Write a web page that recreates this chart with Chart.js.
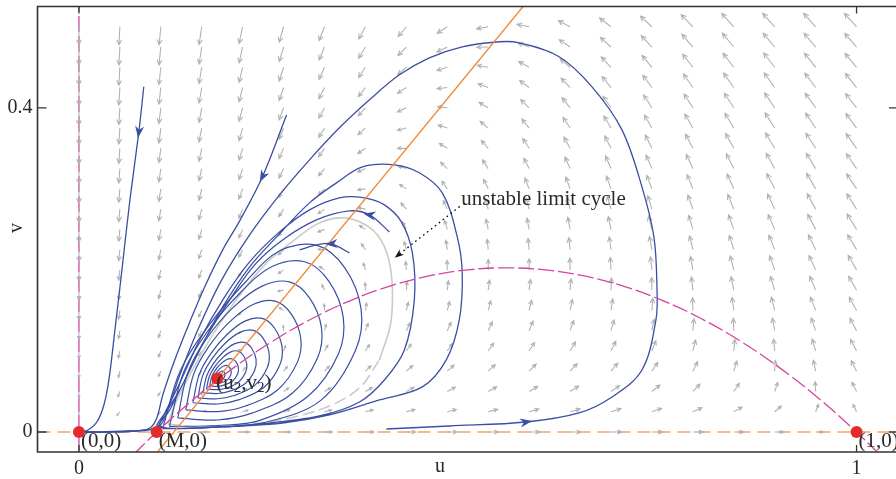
<!DOCTYPE html>
<html>
<head>
<meta charset="utf-8">
<script src="https://cdn.jsdelivr.net/npm/chart.js@4.4.0/dist/chart.umd.min.js"></script>
<style>
  html, body { margin: 0; padding: 0; overflow: hidden; background: #fff; }
  canvas { display: block; }
</style>
</head>
<body>
<canvas id="phase" width="904" height="479"></canvas>
<script>
// axis ranges and ticks
const uRange = [-0.0533, 1.0533];
const vRange = [-0.0247, 0.525];
const uTicks = [0, 1];
const vTicks = [0, 0.4];

// equilibria
const eqU = [0, 0.1, 0.178, 1];
const eqV = [0, 0, 0.066, 0];
const eqLabels = ['(0,0)', '(M,0)', '(u2,v2)', '(1,0)'];

// nullclines
const preyNullU = [0.07, 0.1, 0.15, 0.2, 0.25, 0.3, 0.35, 0.4, 0.45, 0.5, 0.55, 0.6, 0.65, 0.7, 0.75, 0.8, 0.85, 0.9, 0.95, 1.0, 1.03];
const preyNullV = [-0.0279, 0, 0.0425, 0.08, 0.1125, 0.14, 0.1625, 0.18, 0.1925, 0.2, 0.2025, 0.2, 0.1925, 0.18, 0.1625, 0.14, 0.1125, 0.08, 0.0425, 0, -0.0279];
const predNullU = [0.101, 0.5712];
const predNullV = [-0.0247, 0.525];

// direction field: grid and vector components (rows = v, columns = u)
const gridU = [0, 0.0526, 0.1053, 0.1579, 0.2105, 0.2632, 0.3158, 0.3684, 0.4211, 0.4737, 0.5263, 0.5789, 0.6316, 0.6842, 0.7368, 0.7895, 0.8421, 0.8947, 0.9474, 1];
const gridV = [0, 0.025, 0.05, 0.075, 0.1, 0.125, 0.15, 0.175, 0.2, 0.225, 0.25, 0.275, 0.3, 0.325, 0.35, 0.375, 0.4, 0.425, 0.45, 0.475, 0.5];
const fieldDU = [
  [0, -.002, 0, .008, .018, .032, .047, .062, .078, .093, .106, .117, .124, .126, .123, .115, .099, .075, .042, 0],
  [0, -.004, -.002, .004, .013, .025, .039, .053, .068, .081, .093, .102, .108, .109, .105, .095, .078, .053, .019, -.025],
  [0, -.005, -.005, 0, .008, .018, .031, .044, .057, .070, .080, .088, .092, .092, .087, .075, .057, .030, -.005, -.050],
  [0, -.006, -.007, -.004, .003, .012, .023, .035, .047, .058, .067, .073, .076, .075, .068, .055, .036, .008, -.029, -.075],
  [0, -.008, -.010, -.008, -.003, .005, .015, .026, .036, .046, .054, .059, .061, .058, .050, .036, .015, -.015, -.052, -.100],
  [0, -.009, -.013, -.012, -.008, -.001, .007, .016, .026, .034, .041, .044, .045, .041, .031, .016, -.007, -.037, -.076, -.125],
  [0, -.010, -.015, -.016, -.013, -.008, -.001, .007, .015, .022, .027, .030, .029, .024, .013, -.004, -.028, -.059, -.100, -.150],
  [0, -.012, -.018, -.020, -.018, -.015, -.009, -.002, .005, .010, .014, .016, .013, .007, -.005, -.024, -.049, -.082, -.124, -.175],
  [0, -.013, -.021, -.024, -.024, -.021, -.017, -.011, -.006, -.002, .001, .001, -.003, -.011, -.024, -.043, -.070, -.104, -.147, -.200],
  [0, -.014, -.023, -.028, -.029, -.028, -.025, -.021, -.016, -.013, -.012, -.014, -.018, -.028, -.042, -.063, -.091, -.126, -.171, -.225],
  [0, -.016, -.026, -.032, -.034, -.034, -.032, -.030, -.027, -.025, -.025, -.028, -.034, -.045, -.061, -.083, -.112, -.149, -.195, -.250],
  [0, -.017, -.028, -.036, -.040, -.041, -.040, -.039, -.038, -.037, -.038, -.042, -.050, -.062, -.079, -.103, -.133, -.171, -.218, -.275],
  [0, -.018, -.031, -.040, -.045, -.047, -.048, -.048, -.048, -.049, -.052, -.057, -.066, -.079, -.098, -.122, -.154, -.194, -.242, -.300],
  [0, -.020, -.034, -.044, -.050, -.054, -.056, -.057, -.059, -.061, -.065, -.071, -.082, -.096, -.116, -.142, -.175, -.216, -.266, -.325],
  [0, -.021, -.036, -.048, -.055, -.061, -.064, -.067, -.069, -.073, -.078, -.086, -.097, -.113, -.134, -.162, -.196, -.238, -.289, -.350],
  [0, -.022, -.039, -.052, -.061, -.067, -.072, -.076, -.080, -.084, -.091, -.100, -.113, -.130, -.153, -.182, -.217, -.261, -.313, -.375],
  [0, -.024, -.042, -.056, -.066, -.074, -.080, -.085, -.090, -.096, -.104, -.115, -.129, -.148, -.171, -.201, -.238, -.283, -.337, -.400],
  [0, -.025, -.044, -.059, -.071, -.080, -.088, -.094, -.101, -.108, -.117, -.129, -.145, -.165, -.190, -.221, -.259, -.305, -.360, -.425],
  [0, -.026, -.047, -.063, -.076, -.087, -.096, -.103, -.111, -.120, -.131, -.144, -.161, -.182, -.208, -.241, -.280, -.328, -.384, -.450],
  [0, -.027, -.050, -.067, -.082, -.093, -.103, -.113, -.122, -.132, -.144, -.158, -.176, -.199, -.227, -.260, -.301, -.350, -.408, -.475],
  [0, -.029, -.052, -.071, -.087, -.100, -.111, -.122, -.132, -.144, -.157, -.173, -.192, -.216, -.245, -.280, -.322, -.373, -.431, -.500]
];
const fieldDV = [
  [0, 0, 0, 0, 0, 0, 0, 0, 0, 0, 0, 0, 0, 0, 0, 0, 0, 0, 0, 0],
  [-.008, -.005, -.002, .001, .004, .007, .010, .013, .016, .019, .022, .026, .029, .032, .035, .038, .041, .044, .047, .050],
  [-.019, -.013, -.007, -.001, .005, .012, .018, .024, .030, .036, .042, .049, .055, .061, .067, .073, .079, .085, .092, .098],
  [-.033, -.023, -.014, -.005, .004, .014, .023, .032, .041, .050, .060, .069, .078, .087, .097, .106, .115, .124, .134, .143],
  [-.049, -.036, -.024, -.012, .001, .013, .025, .038, .050, .062, .075, .087, .099, .112, .124, .136, .149, .161, .173, .185],
  [-.067, -.052, -.036, -.021, -.005, .010, .025, .041, .056, .072, .087, .102, .118, .133, .149, .164, .179, .195, .210, .226],
  [-.088, -.069, -.051, -.032, -.014, .005, .023, .042, .060, .078, .097, .115, .134, .152, .171, .189, .208, .226, .245, .263],
  [-.111, -.090, -.068, -.047, -.025, -.003, .018, .040, .061, .083, .104, .126, .147, .169, .191, .212, .234, .255, .277, .298],
  [-.137, -.113, -.088, -.063, -.039, -.014, .011, .035, .060, .085, .109, .134, .159, .183, .208, .232, .257, .282, .306, .331],
  [-.165, -.138, -.110, -.082, -.055, -.027, .001, .029, .056, .084, .112, .139, .167, .195, .222, .250, .278, .306, .333, .361],
  [-.196, -.166, -.135, -.104, -.073, -.042, -.012, .019, .050, .081, .112, .142, .173, .204, .235, .266, .296, .327, .358, .389],
  [-.230, -.196, -.162, -.128, -.094, -.060, -.027, .007, .041, .075, .109, .143, .177, .211, .244, .278, .312, .346, .380, .414],
  [-.266, -.229, -.192, -.155, -.118, -.081, -.044, -.007, .030, .067, .104, .141, .178, .215, .252, .289, .326, .363, .399, .436],
  [-.304, -.264, -.224, -.184, -.144, -.104, -.064, -.024, .016, .056, .096, .136, .176, .216, .256, .296, .336, .376, .417, .457],
  [-.345, -.302, -.259, -.216, -.173, -.129, -.086, -.043, 0, .043, .086, .129, .172, .216, .259, .302, .345, .388, .431, .474],
  [-.388, -.342, -.296, -.250, -.204, -.157, -.111, -.065, -.019, .027, .074, .120, .166, .212, .258, .305, .351, .397, .443, .489],
  [-.434, -.385, -.336, -.286, -.237, -.188, -.139, -.089, -.040, .009, .058, .108, .157, .206, .255, .305, .354, .403, .453, .502],
  [-.483, -.430, -.378, -.326, -.273, -.221, -.169, -.116, -.064, -.012, .041, .093, .146, .198, .250, .303, .355, .407, .460, .512],
  [-.533, -.478, -.423, -.367, -.312, -.256, -.201, -.146, -.090, -.035, .021, .076, .132, .187, .242, .298, .353, .409, .464, .520],
  [-.587, -.528, -.470, -.411, -.353, -.294, -.236, -.177, -.119, -.060, -.002, .057, .115, .174, .232, .291, .349, .408, .466, .525],
  [-.643, -.581, -.520, -.458, -.397, -.335, -.273, -.212, -.150, -.089, -.027, .035, .096, .158, .219, .281, .343, .404, .466, .527]
];

// trajectories as [u, v]
const leftTrajectory = [[.0834,.426],[.077,.370],[.0655,.286],[.0552,.1994],[.0462,.1253],[.0385,.0642],[.0321,.0333],[.0231,.0123],[.0116,.0025],[.0013,0]];
const upperTrajectory = [[.267,.391],[.236,.315],[.2067,.2605],[.1849,.2247],[.1617,.179],[.1425,.1358],[.1232,.0889],[.1078,.0457],[.1001,.0173],[.0911,.0049],[.0719,.0012],[.0398,0],[.0013,0]];
const outerTrajectory = [[.3954,.0037],[.4763,.0074],[.5751,.0123],[.6431,.0235],[.6855,.0432],[.724,.0765],[.742,.1383],[.7433,.179],[.7394,.2407],[.724,.3025],[.6983,.3728],[.6598,.4259],[.6175,.463],[.5661,.4802],[.5404,.4815],[.4929,.4753],[.4506,.4617],[.4121,.4407],[.3736,.4099],[.335,.3753],[.2965,.3358],[.258,.2926],[.2195,.2432],[.1836,.1877],[.1528,.1259],[.1297,.0704],[.1143,.0272],[.104,.0074],[.0911,.0025],[.0655,.0012],[.027,0],[.0013,0]];
const escapingTrajectory = [[.3992,.2469],[.3736,.2679],[.3479,.2728],[.3055,.2617],[.2619,.237],[.2259,.2062],[.1938,.163],[.1617,.1136],[.1361,.0642],[.1168,.0272],[.104,.0074],[.1553,.0049],[.2324,.0099],[.3094,.0198],[.3607,.037],[.3928,.0642],[.4185,.1012],[.4313,.163],[.4288,.221],[.4146,.2593],[.3928,.2802],[.3671,.2889],[.335,.2889],[.2965,.2741],[.258,.2469],[.2195,.2099],[.1874,.1667],[.1553,.1136],[.1297,.0605],[.1104,.0235],[.1014,.0062],[.1771,.0062],[.2619,.0111],[.3222,.021],[.3864,.0395],[.4416,.0556],[.4724,.0889],[.4891,.1383],[.4929,.1963],[.4865,.2407],[.4673,.2951],[.4377,.3198],[.4056,.3296],[.3646,.3272],[.3312,.3074],[.2965,.2827],[.2542,.2407],[.2195,.2037],[.1849,.1543],[.1553,.1012],[.1297,.0519],[.1078,.0185],[.1001,.0062],[.0719,.0012],[.0398,0],[.0013,0]];
const innerStart = [[.3479,.221],[.3248,.2321],[.3055,.2309],[.2837,.2247]];
const spiralLoops = [
  [[.1076,.004],[.178,.006],[.240,.012],[.311,.039],[.3557,.1008],[.3628,.1519],[.3415,.2031],[.306,.2303],[.2582,.2236],[.2151,.186],[.1671,.1315],[.1302,.0753]],
  [[.1163,.0069],[.1784,.008],[.2327,.0144],[.2949,.0443],[.3338,.0966],[.3399,.1414],[.3213,.1862],[.2902,.2101],[.2483,.2042],[.2068,.1712],[.1648,.1234],[.1348,.0742]],
  [[.1271,.0173],[.1784,.0148],[.2233,.0235],[.2747,.0482],[.3068,.0914],[.3119,.1284],[.2965,.1655],[.2708,.1852],[.2362,.1803],[.1977,.1531],[.163,.1136],[.1399,.0729]],
  [[.1374,.0272],[.1784,.0252],[.2143,.0321],[.2554,.0519],[.2811,.0865],[.2852,.1161],[.2729,.1457],[.2523,.1615],[.2246,.1576],[.1938,.1358],[.1661,.1042],[.1476,.0717]],
  [[.1466,.0361],[.1784,.0345],[.2062,.0399],[.2381,.0552],[.258,.082],[.2612,.105],[.2516,.128],[.2357,.1402],[.2142,.1371],[.1904,.1203],[.1689,.0958],[.1545,.0705]],
  [[.153,.0422],[.1784,.041],[.2006,.0453],[.2261,.0575],[.242,.0789],[.2445,.0972],[.2369,.1156],[.2241,.1254],[.207,.1229],[.188,.1095],[.1708,.0899],[.1593,.0698]],
  [[.1594,.0484],[.1784,.0475],[.195,.0507],[.214,.0599],[.2259,.0758],[.2278,.0895],[.2221,.1033],[.2126,.1105],[.1998,.1087],[.1855,.0987],[.1727,.0841],[.1642,.069]],
  [[.164,.0529],[.1784,.0522],[.191,.0546],[.2054,.0615],[.2144,.0736],[.2158,.084],[.2115,.0944],[.2043,.0999],[.1946,.0985],[.1838,.0909],[.1741,.0798],[.1676,.0684]],
  [[.1681,.0568],[.1784,.0563],[.1874,.0581],[.1977,.063],[.2041,.0716],[.2051,.079],[.202,.0865],[.1969,.0904],[.19,.0894],[.1823,.084],[.1753,.0761],[.1707,.0679]],
  [[.1717,.0603],[.1784,.06],[.1842,.0611],[.1909,.0643],[.1951,.0699],[.1958,.0747],[.1938,.0795],[.1904,.0821],[.1859,.0815],[.1809,.0779],[.1764,.0728],[.1734,.0675]],
  [[.1748,.0632],[.1784,.0631],[.1815,.0637],[.1851,.0654],[.1874,.0684],[.1877,.071],[.1867,.0736],[.1849,.075],[.1824,.0747],[.1798,.0727],[.1773,.07],[.1757,.0671]]
];
const limitCycle = [[.1143,.0099],[.1553,.0062],[.2195,.0099],[.2709,.0173],[.3222,.0321],[.3607,.0543],[.3864,.0889],[.4005,.1321],[.4031,.1753],[.3979,.2148],[.3838,.2432],[.3607,.2593],[.335,.2642],[.3068,.2568],[.2773,.237],[.2426,.2099],[.2067,.1691],[.172,.1198],[.1425,.0704],[.1232,.0333],[.1143,.0099]];
const limitCycleDashedEnd = 6; // lower arc (points 0..6) is drawn dashed

// flow direction markers: [trajectory, point index]
const flowMarks = [[leftTrajectory, 1], [upperTrajectory, 1], [outerTrajectory, 2], [escapingTrajectory, 1], [innerStart, 1]];

// annotation
const noteText = 'unstable limit cycle';
const noteAt = [0.4917, 0.2802];
const notePointer = [[0.4891, 0.2778], [0.4108, 0.2185]];

const serif = "'Liberation Serif', 'Times New Roman', serif";
Chart.defaults.font.family = serif;
Chart.defaults.color = '#2a2a2a';

const BLUE = '#3a4fa3';
const pts = arr => arr.map(([x, y]) => ({ x, y }));
const zip = (xs, ys) => xs.map((x, i) => ({ x, y: ys[i] }));
const curve = (label, data, color, width, order, extra) => Object.assign({
  label, data, showLine: true, borderColor: color, borderWidth: width,
  pointRadius: 0, tension: 0.35, fill: false, order
}, extra || {});

const datasets = [
  curve('u-axis', pts([[0, vRange[0]], [0, vRange[1]]]), '#d6449f', 1.3, 10, { borderDash: [16, 4], tension: 0 }),
  curve('v-axis', pts([[uRange[0], 0], [uRange[1], 0]]), '#f4a46e', 1.5, 9, { borderDash: [13, 7], tension: 0 }),
  curve('limit cycle', pts(limitCycle.slice(limitCycleDashedEnd)), '#cacaca', 1.6, 7),
  curve('limit cycle low', pts(limitCycle.slice(0, limitCycleDashedEnd + 1)), '#cacaca', 1.6, 7, { borderDash: [12, 5] }),
  curve('left', pts(leftTrajectory), BLUE, 1.3, 6),
  curve('upper', pts(upperTrajectory), BLUE, 1.3, 6),
  curve('outer', pts(outerTrajectory), BLUE, 1.3, 6),
  curve('escaping', pts(escapingTrajectory), BLUE, 1.3, 6),
  curve('inner start', pts(innerStart), BLUE, 1.3, 6),
  ...spiralLoops.map((loop, k) => curve('loop ' + k, pts(loop.concat([loop[0]])), BLUE, 1.2, 6)),
  curve('v nullcline', zip(predNullU, predNullV), '#f08a3a', 1.3, 4, { tension: 0 }),
  curve('u nullcline', zip(preyNullU, preyNullV), '#d6449f', 1.3, 4, { borderDash: [16, 4], tension: 0.4 }),
  { label: 'equilibria', data: zip(eqU, eqV), showLine: false, pointRadius: 6, pointBackgroundColor: '#e42a2a', pointBorderWidth: 0, order: 1, clip: false }
];

const vectorField = {
  id: 'vectorField',
  afterDatasetDraw(chart, args) {
    if (chart.data.datasets[args.index].label !== 'v-axis') return;
    const { ctx, chartArea: a } = chart;
    const xs = chart.scales.x, ys = chart.scales.y;
    const sx = xs.getPixelForValue(1) - xs.getPixelForValue(0);
    const sy = ys.getPixelForValue(1) - ys.getPixelForValue(0);
    ctx.save();
    ctx.beginPath();
    ctx.rect(a.left, a.top, a.right - a.left, a.bottom - a.top);
    ctx.clip();
    ctx.strokeStyle = '#b2b2b2';
    ctx.lineWidth = 1.1;
    gridV.forEach((v, j) => {
      gridU.forEach((u, i) => {
        const du = fieldDU[j][i], dv = fieldDV[j][i];
        const mag = Math.hypot(du, dv);
        if (!mag) return;
        const len = Math.min(18, 3 + 22 * Math.sqrt(mag));
        const ang = Math.atan2(dv * sy, du * sx);
        const x0 = xs.getPixelForValue(u), y0 = ys.getPixelForValue(v);
        const x1 = x0 + Math.cos(ang) * len, y1 = y0 + Math.sin(ang) * len;
        const h = Math.min(5.5, len * 0.45);
        ctx.beginPath();
        ctx.moveTo(x0, y0);
        ctx.lineTo(x1, y1);
        ctx.moveTo(x1 - h * Math.cos(ang - 0.45), y1 - h * Math.sin(ang - 0.45));
        ctx.lineTo(x1, y1);
        ctx.lineTo(x1 - h * Math.cos(ang + 0.45), y1 - h * Math.sin(ang + 0.45));
        ctx.stroke();
      });
    });
    ctx.restore();
  }
};

function head(ctx, x, y, ang, len, wid, color) {
  ctx.save();
  ctx.translate(x, y);
  ctx.rotate(ang);
  ctx.beginPath();
  ctx.moveTo(len / 2, 0);
  ctx.lineTo(-len / 2, wid / 2);
  ctx.lineTo(-len / 2 + len * 0.3, 0);
  ctx.lineTo(-len / 2, -wid / 2);
  ctx.closePath();
  ctx.fillStyle = color;
  ctx.fill();
  ctx.restore();
}

const overlay = {
  id: 'overlay',
  afterDatasetsDraw(chart) {
    const { ctx } = chart;
    const xs = chart.scales.x, ys = chart.scales.y;
    const P = ([u, v]) => [xs.getPixelForValue(u), ys.getPixelForValue(v)];
    flowMarks.forEach(([arr, k]) => {
      const [x0, y0] = P(arr[k]);
      const [x1, y1] = P(arr[k + 1]);
      head(ctx, x0, y0, Math.atan2(y1 - y0, x1 - x0), 12, 9, BLUE);
    });
    // annotation pointer
    const [ax, ay] = P(notePointer[0]);
    const [bx, by] = P(notePointer[1]);
    ctx.save();
    ctx.strokeStyle = '#111';
    ctx.lineWidth = 1.4;
    ctx.lineCap = 'round';
    ctx.setLineDash([0.5, 4.5]);
    ctx.beginPath();
    ctx.moveTo(ax, ay);
    ctx.lineTo(bx, by);
    ctx.stroke();
    ctx.restore();
    head(ctx, bx, by, Math.atan2(by - ay, bx - ax), 9, 7, '#111');
  },
  afterDraw(chart) {
    const { ctx, chartArea: a } = chart;
    const xs = chart.scales.x, ys = chart.scales.y;
    ctx.save();
    // frame
    ctx.strokeStyle = '#333';
    ctx.lineWidth = 1.6;
    ctx.beginPath();
    ctx.moveTo(a.right, a.top); ctx.lineTo(a.left, a.top);
    ctx.lineTo(a.left, a.bottom); ctx.lineTo(a.right, a.bottom);
    ctx.lineTo(a.right, a.top);
    ctx.stroke();
    ctx.lineWidth = 1.3;
    ctx.beginPath();
    uTicks.forEach(u => {
      const x = xs.getPixelForValue(u);
      ctx.moveTo(x, a.bottom); ctx.lineTo(x, a.bottom - 7);
      ctx.moveTo(x, a.top); ctx.lineTo(x, a.top + 7);
    });
    vTicks.forEach(v => {
      const y = ys.getPixelForValue(v);
      ctx.moveTo(a.left, y); ctx.lineTo(a.left + 9, y);
      ctx.moveTo(a.right, y); ctx.lineTo(a.right - 9, y);
    });
    ctx.stroke();

    // labels
    ctx.fillStyle = '#2a2a2a';
    ctx.textBaseline = 'middle';
    ctx.textAlign = 'left';
    eqU.forEach((u, i) => {
      const x = xs.getPixelForValue(u), y = ys.getPixelForValue(eqV[i]);
      if (eqLabels[i] === '(u2,v2)') {
        let cx = x - 1;
        const cy = y + 5;
        [['(u', 0], ['2', 1], [',v', 0], ['2', 1], [')', 0]].forEach(([s, sub]) => {
          ctx.font = (sub ? '15px ' : '21px ') + serif;
          ctx.fillText(s, cx, sub ? cy + 5 : cy);
          cx += ctx.measureText(s).width;
        });
      } else {
        ctx.font = '21px ' + serif;
        ctx.fillText(eqLabels[i], x + 2, y + 10);
      }
    });
    ctx.font = '21px ' + serif;
    ctx.textBaseline = 'alphabetic';
    ctx.fillText(noteText, xs.getPixelForValue(noteAt[0]), ys.getPixelForValue(noteAt[1]));
    // axis titles
    ctx.font = '20px ' + serif;
    ctx.textAlign = 'center';
    ctx.textBaseline = 'middle';
    ctx.fillText('u', 440, 467);
    ctx.translate(17, 228);
    ctx.rotate(-Math.PI / 2);
    ctx.fillText('v', 0, 0);
    ctx.restore();
  }
};

new Chart(document.getElementById('phase'), {
  type: 'scatter',
  data: { datasets },
  options: {
    responsive: false,
    animation: false,
    events: [],
    layout: { padding: { top: 6.5, right: 5, left: 0, bottom: 0 } },
    plugins: { legend: { display: false }, tooltip: { enabled: false } },
    scales: {
      x: {
        type: 'linear', min: uRange[0], max: uRange[1],
        grid: { display: false, drawTicks: false },
        border: { display: false },
        afterBuildTicks: s => { s.ticks = uTicks.map(value => ({ value })); },
        afterFit: s => { s.height = 27; s.paddingLeft = 0; s.paddingRight = 0; },
        ticks: { padding: 5, maxRotation: 0, autoSkip: false, font: { size: 20 }, callback: v => String(v) }
      },
      y: {
        type: 'linear', min: vRange[0], max: vRange[1],
        grid: { display: false, drawTicks: false },
        border: { display: false },
        afterBuildTicks: s => { s.ticks = vTicks.map(value => ({ value })); },
        afterFit: s => { s.width = 37.5; s.paddingTop = 0; s.paddingBottom = 0; },
        ticks: { padding: 5, autoSkip: false, font: { size: 20 }, callback: v => String(v) }
      }
    }
  },
  plugins: [vectorField, overlay]
});
</script>
</body>
</html>
